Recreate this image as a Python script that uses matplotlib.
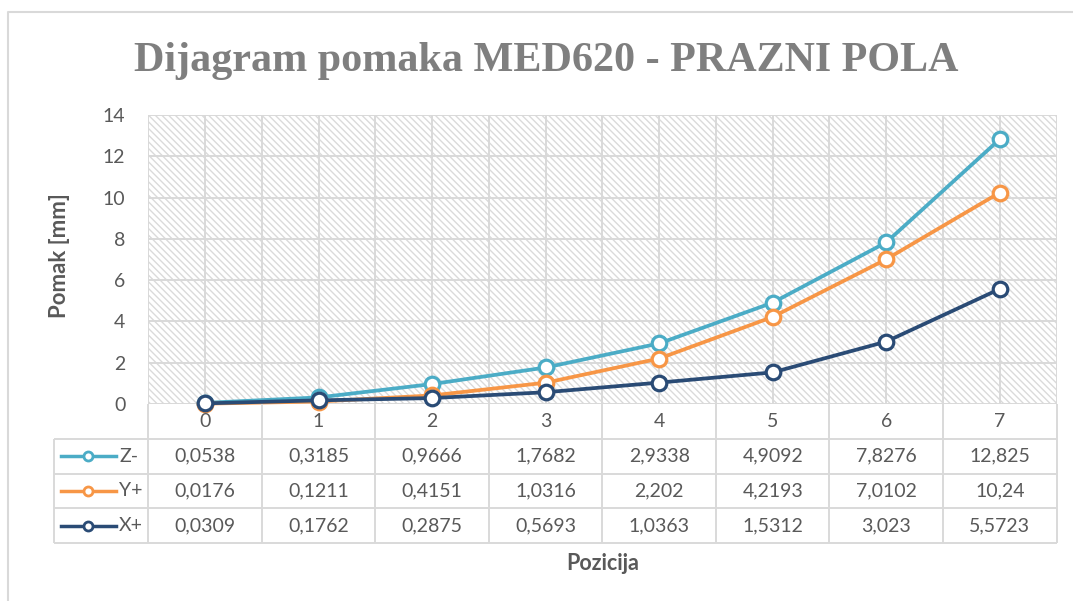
import numpy as np
import matplotlib
matplotlib.use("Agg")
import matplotlib.pyplot as plt
from matplotlib.patches import Rectangle
from matplotlib.lines import Line2D

# ---- data ----
categories = ["0", "1", "2", "3", "4", "5", "6", "7"]
series_names = ["Z-", "Y+", "X+"]
z_minus = [0.0538, 0.3185, 0.9666, 1.7682, 2.9338, 4.9092, 7.8276, 12.825]
y_plus = [0.0176, 0.1211, 0.4151, 1.0316, 2.202, 4.2193, 7.0102, 10.24]
x_plus = [0.0309, 0.1762, 0.2875, 0.5693, 1.0363, 1.5312, 3.023, 5.5723]
y_ticks = [0, 2, 4, 6, 8, 10, 12, 14]

title = "Dijagram pomaka MED620 - PRAZNI POLA"
y_label = "Pomak [mm]"
x_label = "Pozicija"

colors = ["#4BACC6", "#F79646", "#2A4B75"]
series = [z_minus, y_plus, x_plus]

plt.rcParams['font.family'] = ['Lato', 'DejaVu Sans']
plt.rcParams['hatch.linewidth'] = 1.0

W, H = 1073, 601
fig = plt.figure(figsize=(W / 100, H / 100), dpi=100)

def fx(px):
    return px / W

def fy(py):
    return 1 - py / H

grid_c = "#d9d9d9"
text_c = "#595959"

# main axes
ax_l, ax_r, ax_t, ax_b = 148.3, 1056.5, 115, 404
ax = fig.add_axes([fx(ax_l), fy(ax_b), fx(ax_r - ax_l), (ax_b - ax_t) / H])
xpos = np.arange(len(categories))
ax.set_xlim(-0.5, len(categories) - 0.5)
ax.set_ylim(0, 14)
ax.set_yticks(y_ticks)
ax.set_xticks(np.arange(-0.5, len(categories), 0.5))
ax.tick_params(axis='x', length=0, labelbottom=False)
ax.tick_params(axis='y', length=0, pad=16.5, labelsize=14, labelcolor=text_c)
ax.set_axisbelow(True)
ax.grid(True, color=grid_c, lw=1.4)
for s in ax.spines.values():
    s.set_visible(False)
ax.add_patch(Rectangle((0, 0), 1, 1, transform=ax.transAxes, facecolor='white',
                       edgecolor='#dadada', hatch='\\\\\\\\\\', lw=0, zorder=0))

for i, (vals, c) in enumerate(zip(series, colors)):
    ax.plot(xpos, vals, color=c, lw=2.7, marker='o', ms=10.5, mfc='white',
            mec=c, mew=2.3, zorder=3 + i, clip_on=False)

# table axes
tb_t, tb_b = ax_b, 543
tax = fig.add_axes([fx(ax_l), fy(tb_b), fx(ax_r - ax_l), (tb_b - tb_t) / H])
tax.set_xlim(-0.5, len(categories) - 0.5)
tax.set_ylim(0, 4)
tax.axis('off')

unit = (ax_r - ax_l) / len(categories)
def dx(px):
    return (px - (ax_l + unit / 2)) / unit

x_left = dx(54)
bounds = np.arange(-0.5, len(categories), 1.0)
tax.vlines(bounds, 0, 4, color=grid_c, lw=1.4, clip_on=False)
tax.hlines([0, 1, 2, 3], x_left, len(categories) - 0.5, color=grid_c, lw=1.4, clip_on=False)
tax.vlines([x_left], 0, 3, color=grid_c, lw=1.4, clip_on=False)

for i, cat in enumerate(categories):
    tax.text(i, 3.5, cat, ha='center', va='center', fontsize=14, color=text_c)

for r, (name, vals, c) in enumerate(zip(series_names, series, colors)):
    yc = 2.5 - r
    for i, v in enumerate(vals):
        tax.text(i, yc, ("%g" % v).replace('.', ','), ha='center', va='center',
                 fontsize=14, color=text_c)
    tax.plot([dx(61), dx(116)], [yc, yc], color=c, lw=2.5, clip_on=False)
    tax.plot([dx(88)], [yc], marker='o', ms=6.5, mfc='white', mec=c, mew=2.0,
             clip_on=False)
    tax.text(dx(119), yc, name, ha='left', va='center', fontsize=14, color=text_c)

# texts
fig.text(fx(546), fy(61), title, ha='center', va='center', fontsize=30.3,
         fontweight='bold', family='Liberation Serif', color='#7f7f7f')
fig.text(fx(59), fy(256), y_label, rotation=90, ha='center', va='center',
         fontsize=16, fontweight='bold', color=text_c)
fig.text(fx(603), fy(563), x_label, ha='center', va='center',
         fontsize=15.5, fontweight='bold', color=text_c)

# outer border (left and top visible)
fig.add_artist(Line2D([fx(8), fx(8), fx(1073)], [fy(601), fy(12), fy(12)],
                      transform=fig.transFigure, color=grid_c, lw=1.5))

fig.savefig("out.png", dpi=100, facecolor='white')
